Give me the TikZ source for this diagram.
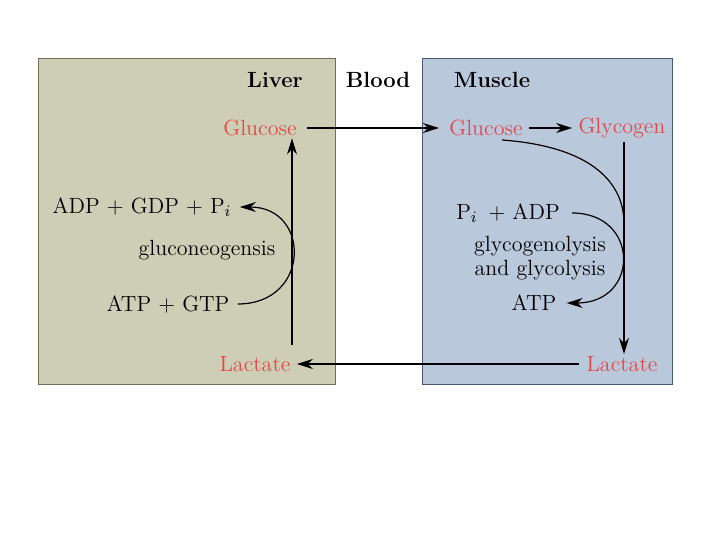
\documentclass[tikz,border=0pt]{standalone}
\usepackage{amsmath}
\usepackage{xcolor}
\usepackage{tikz}
\usetikzlibrary{arrows.meta,positioning}
\definecolor{liverbg}{RGB}{206,206,182}
\definecolor{liverline}{RGB}{110,110,85}
\definecolor{musclebg}{RGB}{186,200,220}
\definecolor{muscleline}{RGB}{70,90,120}
\definecolor{metab}{RGB}{226,72,72}

\begin{document}
\begin{tikzpicture}[x=0.5pt, y=-0.5pt, font=\fontsize{11}{13}\selectfont,
  met/.style={text=metab, inner sep=1pt},
  lbl/.style={inner sep=1pt, align=center},
  hdr/.style={font=\fontsize{11}{13}\selectfont\bfseries, inner sep=1pt},
  flow/.style={-{Stealth[length=8pt,width=5pt]}, line width=0.6pt}]
  \useasboundingbox (0,0) rectangle (720,540);
  % compartments
  \draw[liverline, fill=liverbg] (38,58) rectangle (335,384);
  \draw[muscleline, fill=musclebg] (422,58) rectangle (672,384);
  \node[hdr] (liver) at (275,80) {Liver};
  \node[hdr] (blood) at (378,80) {Blood};
  \node[hdr] (muscle) at (492,80) {Muscle};
  % metabolites
  \node[met] (lglc) at (260,128) {Glucose};
  \node[met] (llac) at (255,364) {Lactate};
  \node[met] (mglc) at (486,128) {Glucose};
  \node[met] (mgly) at (622,128) {Glycogen};
  \node[met] (mlac) at (622,364) {Lactate};
  % liver side
  \node[lbl] (adp) at (142,207) {ADP + GDP + P$_i$};
  \node[lbl] (gng) at (207,250) {gluconeogensis};
  \node[lbl] (atpg) at (168,304) {ATP + GTP};
  % muscle side
  \node[lbl] (piadp) at (508,213) {P$_i$ \,+ ADP};
  \node[lbl] (glyc) at (540,258) {glycogenolysis\\[-1pt]and glycolysis};
  \node[lbl] (atp) at (534,303) {ATP};
  \coordinate (up) at (292,345);
  \coordinate (dn) at (624,142);
  \coordinate (mstart) at (502,140);
  \coordinate (mjoin) at (624,222);
  % arrows
  \draw[flow] (lglc.east) ++(8,0) -- ([xshift=-4pt]mglc.west);
  \draw[flow] (mglc.east) ++(4,0) -- ([xshift=-2pt]mgly.west);
  \draw[flow] (dn) -- (dn |- mlac.north);
  \draw[flow] (mlac.west) ++(-5,0) -- ([xshift=2pt]llac.east);
  \draw[flow] (up) -- (up |- lglc.south);
  \draw[flow] ([xshift=3pt]atpg.east) .. controls (311,304) and (311,207) .. ([xshift=3pt]adp.east);
  \draw[flow] ([xshift=5pt]piadp.east) .. controls (640,213) and (640,303) .. ([xshift=4pt]atp.east);
  \draw[line width=0.6pt] (mstart) .. controls (585,146) and (623,178) .. (mjoin);
\end{tikzpicture}
\end{document}
